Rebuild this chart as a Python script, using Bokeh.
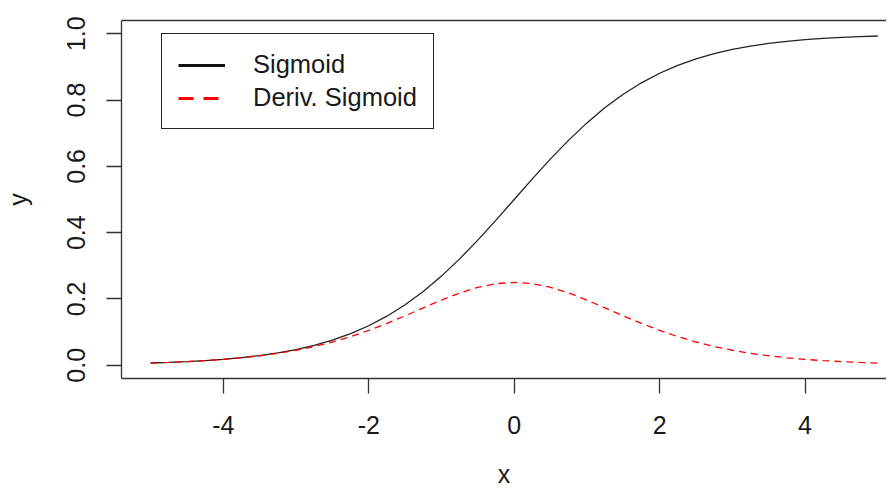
from bokeh.plotting import figure
from bokeh.models import Legend, LegendItem, Range1d, FixedTicker, LinearAxis
from bokeh.embed import file_html
from bokeh.resources import INLINE

# data
x_vals = [-5.0, -4.75, -4.5, -4.25, -4.0, -3.75, -3.5, -3.25, -3.0, -2.75, -2.5,
          -2.25, -2.0, -1.75, -1.5, -1.25, -1.0, -0.75, -0.5, -0.25, 0.0,
          0.25, 0.5, 0.75, 1.0, 1.25, 1.5, 1.75, 2.0, 2.25, 2.5,
          2.75, 3.0, 3.25, 3.5, 3.75, 4.0, 4.25, 4.5, 4.75, 5.0]
sigmoid = [0.0067, 0.0086, 0.0110, 0.0141, 0.0180, 0.0230, 0.0293, 0.0373, 0.0474, 0.0601, 0.0759,
           0.0953, 0.1192, 0.1480, 0.1824, 0.2227, 0.2689, 0.3208, 0.3775, 0.4378, 0.5000,
           0.5622, 0.6225, 0.6792, 0.7311, 0.7773, 0.8176, 0.8520, 0.8808, 0.9047, 0.9241,
           0.9399, 0.9526, 0.9627, 0.9707, 0.9770, 0.9820, 0.9859, 0.9890, 0.9914, 0.9933]
deriv = [0.0066, 0.0085, 0.0109, 0.0139, 0.0177, 0.0225, 0.0285, 0.0359, 0.0452, 0.0565, 0.0701,
         0.0862, 0.1050, 0.1261, 0.1491, 0.1731, 0.1966, 0.2179, 0.2350, 0.2461, 0.2500,
         0.2461, 0.2350, 0.2179, 0.1966, 0.1731, 0.1491, 0.1261, 0.1050, 0.0862, 0.0701,
         0.0565, 0.0452, 0.0359, 0.0285, 0.0225, 0.0177, 0.0139, 0.0109, 0.0085, 0.0066]
x_ticks = [-4, -2, 0, 2, 4]
x_tick_labels = {-4: "-4", -2: "-2", 0: "0", 2: "2", 4: "4"}
y_ticks = [0.0, 0.2, 0.4, 0.6, 0.8, 1.0]
y_tick_labels = {0.0: "0.0", 0.2: "0.2", 0.4: "0.4", 0.6: "0.6", 0.8: "0.8", 1.0: "1.0"}
legend_labels = ["Sigmoid", "Deriv. Sigmoid"]
x_title = "x"
y_title = "y"

FONT = "Liberation Sans"
AX = "#333333"
TXT = "#1a1a1a"

p = figure(width=886, height=490, output_backend="svg", toolbar_location=None,
           x_range=Range1d(-5.4, 5.12), y_range=Range1d(-0.04, 1.04),
           min_border_left=121, min_border_right=0, min_border_top=20, min_border_bottom=111)
p.background_fill_color = "white"
p.border_fill_color = "white"
p.grid.visible = False
p.outline_line_color = None

xax = p.below[0]
yax = p.left[0]

for ax in (xax, yax):
    ax.axis_line_color = AX
    ax.axis_line_width = 1.3
    ax.major_tick_line_color = AX
    ax.major_tick_line_width = 1.3
    ax.major_tick_in = 0
    ax.major_tick_out = 15
    ax.minor_tick_line_color = None
    ax.major_label_text_font = FONT
    ax.major_label_text_font_size = "25px"
    ax.major_label_text_color = TXT
    ax.axis_label_text_font = FONT
    ax.axis_label_text_font_size = "25px"
    ax.axis_label_text_font_style = "normal"
    ax.axis_label_text_color = TXT

xax.ticker = FixedTicker(ticks=x_ticks)
xax.major_label_overrides = x_tick_labels
yax.ticker = FixedTicker(ticks=y_ticks)
yax.major_label_overrides = y_tick_labels
yax.major_label_orientation = "vertical"
xax.major_label_standoff = 22
yax.major_label_standoff = 21
xax.axis_label = x_title
yax.axis_label = y_title
xax.axis_label_standoff = 23
yax.axis_label_standoff = 33

# top edge of the box (the right edge lies outside the picture)
top_axis = LinearAxis(ticker=FixedTicker(ticks=[]), major_label_text_font_size="0px",
                      axis_line_color=AX, axis_line_width=1.3,
                      major_tick_line_color=None, minor_tick_line_color=None,
                      major_label_standoff=0, axis_label=None)
p.add_layout(top_axis, "above")

r1 = p.line(x_vals, sigmoid, line_color="#222222", line_width=1.3)
r2 = p.line(x_vals, deriv, line_color="red", line_width=1.3, line_dash="7 5")

# legend sample lines (drawn thicker, as in the reference); a single point draws nothing on the plot
l1 = p.line(x_vals[:1], sigmoid[:1], line_color="#111111", line_width=3)
l2 = p.line(x_vals[:1], deriv[:1], line_color="red", line_width=3, line_dash="15 10")

legend = Legend(items=[LegendItem(label=legend_labels[0], renderers=[l1]),
                       LegendItem(label=legend_labels[1], renderers=[l2])],
                location=(40, 249))
legend.label_text_font = FONT
legend.label_text_font_size = "25.5px"
legend.label_text_color = TXT
legend.border_line_color = "#222222"
legend.border_line_alpha = 1.0
legend.border_line_width = 1.3
legend.background_fill_alpha = 1.0
legend.margin = 0
legend.padding = 16
legend.spacing = 4
legend.glyph_width = 47
legend.glyph_height = 28
legend.label_standoff = 28
legend.label_height = 28
legend.label_text_baseline = "middle"
legend.label_text_line_height = 1.0
p.add_layout(legend)

open("out.html", "w").write(file_html(p, INLINE))
